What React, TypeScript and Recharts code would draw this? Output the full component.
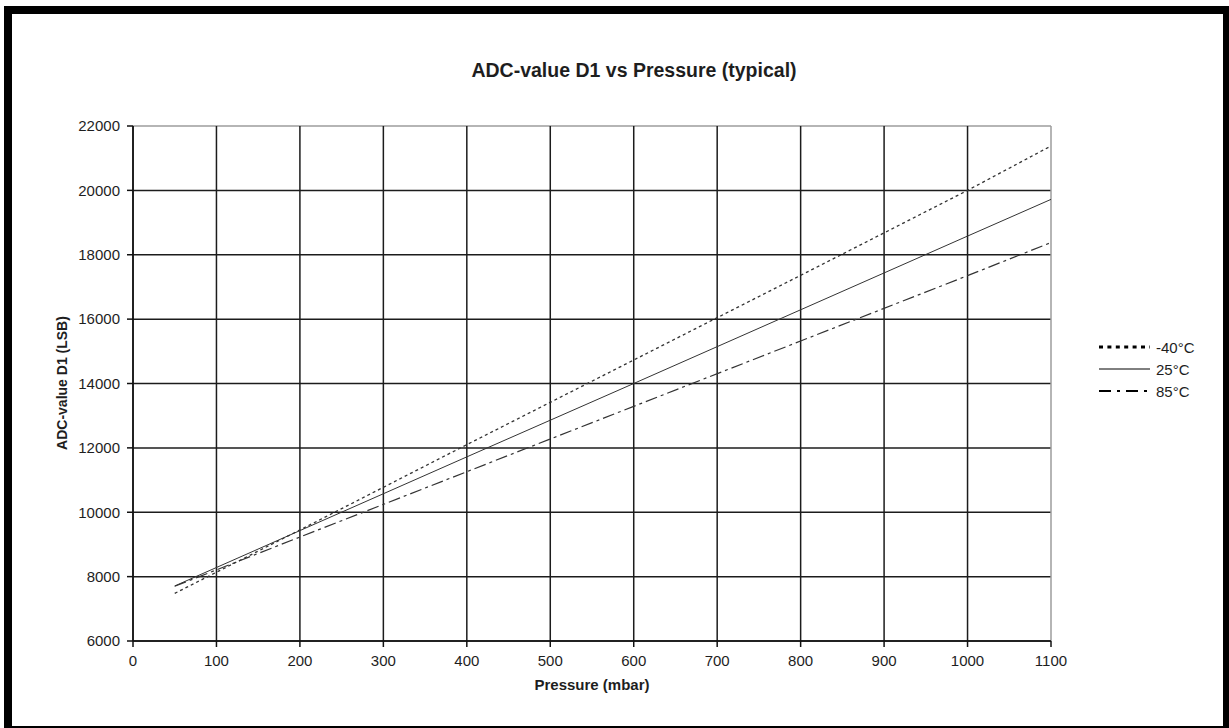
import React from 'react';
import { LineChart, Line, XAxis, YAxis, CartesianGrid, Legend, Label } from 'recharts';

// values (mbar -> LSB)
const pressure = [50, 200, 400, 600, 800, 1000, 1100];
const adcMinus40 = [7480, 9450, 12100, 14730, 17360, 20000, 21380];
const adc25 = [7710, 9430, 11720, 14000, 16290, 18580, 19720];
const adc85 = [7700, 9230, 11260, 13290, 15320, 17350, 18380];

const xTicks = [0, 100, 200, 300, 400, 500, 600, 700, 800, 900, 1000, 1100];
const yTicks = [6000, 8000, 10000, 12000, 14000, 16000, 18000, 20000, 22000];

const seriesNames = ['-40°C', '25°C', '85°C'];

const data = pressure.map((p, i) => ({
  p,
  t40: adcMinus40[i],
  t25: adc25[i],
  t85: adc85[i],
}));

const FONT = '"Liberation Sans", Arial, Helvetica, sans-serif';
const INK = '#1e1e1e';
const LINE = '#333';

// legend swatches are drawn heavier than the plotted lines, like the original
const legendStyle: Record<string, { width: number; dash?: string }> = {
  t40: { width: 3, dash: '4 4.4' },
  t25: { width: 1 },
  t85: { width: 2, dash: '12 6 3 6' },
};

function LegendBox(props: any) {
  const items = props.payload || [];
  return (
    <div style={{ fontFamily: FONT, fontSize: 15, color: INK }}>
      {items.map((it: any) => {
        const st = legendStyle[it.dataKey] || { width: 1 };
        return (
          <div key={it.dataKey} style={{ display: 'flex', alignItems: 'center', height: 22 }}>
            <svg width={52} height={10} style={{ display: 'block' }}>
              <line x1={0} y1={5} x2={51} y2={5} stroke="#000" strokeWidth={st.width} strokeDasharray={st.dash} />
            </svg>
            <span style={{ marginLeft: 5 }}>{it.value}</span>
          </div>
        );
      })}
    </div>
  );
}

const gridLine = (isEdge: boolean) => ({
  stroke: isEdge ? '#9c9c9c' : '#1c1c1c',
  strokeWidth: 1.5,
});

export default function App() {
  return (
    <div
      style={{
        position: 'absolute',
        left: 0,
        top: 0,
        width: 1229,
        height: 728,
        background: '#fff',
        fontFamily: FONT,
        overflow: 'hidden',
      }}
    >
      {/* frame */}
      <div style={{ position: 'absolute', left: 4, top: 6, width: 1225, height: 8, background: '#000' }} />
      <div style={{ position: 'absolute', left: 4, top: 6, width: 8, height: 722, background: '#000' }} />
      <div style={{ position: 'absolute', left: 1223, top: 6, width: 6, height: 722, background: '#000' }} />
      <div style={{ position: 'absolute', left: 4, top: 726, width: 1225, height: 2, background: '#000' }} />

      <div
        style={{
          position: 'absolute',
          left: 0,
          width: 1268,
          top: 59,
          textAlign: 'center',
          fontSize: 19.5,
          fontWeight: 'bold',
          color: INK,
        }}
      >
        ADC-value D1 vs Pressure (typical)
      </div>

      <div style={{ position: 'absolute', left: 0, top: 0 }}>
        <LineChart width={1229} height={728} data={data} margin={{ top: 126, right: 178, bottom: 0, left: 63 }}>
          <CartesianGrid
            horizontal={(p: any) => (
              <line key={p.key} x1={p.x1} y1={p.y1} x2={p.x2} y2={p.y2} {...gridLine(p.y1 < 130)} />
            )}
            vertical={(p: any) => (
              <line key={p.key} x1={p.x1} y1={p.y1} x2={p.x2} y2={p.y2} {...gridLine(p.x1 > 1045)} />
            )}
          />
          <XAxis
            dataKey="p"
            type="number"
            domain={[0, 1100]}
            ticks={xTicks}
            interval={0}
            height={87}
            tickSize={6}
            tickMargin={8}
            axisLine={{ stroke: '#111', strokeWidth: 1.5 }}
            tickLine={{ stroke: '#111', strokeWidth: 1.5 }}
            tick={{ fill: INK, fontSize: 15, fontFamily: FONT }}
          >
            <Label
              content={() => (
                <text x={592} y={690} textAnchor="middle" fontSize={15} fontWeight="bold" fill={INK} fontFamily={FONT}>
                  Pressure (mbar)
                </text>
              )}
            />
          </XAxis>
          <YAxis
            type="number"
            domain={[6000, 22000]}
            ticks={yTicks}
            interval={0}
            width={70}
            tickSize={6}
            tickMargin={7}
            axisLine={{ stroke: '#111', strokeWidth: 1.5 }}
            tickLine={{ stroke: '#111', strokeWidth: 1.5 }}
            tick={{ fill: INK, fontSize: 15, fontFamily: FONT }}
          >
            <Label
              content={() => (
                <text
                  x={67}
                  y={383}
                  transform="rotate(-90 67 383)"
                  textAnchor="middle"
                  fontSize={14}
                  fontWeight="bold"
                  fill={INK}
                  fontFamily={FONT}
                >
                  ADC-value D1 (LSB)
                </text>
              )}
            />
          </YAxis>
          <Legend
            layout="vertical"
            align="center"
            verticalAlign="middle"
            content={LegendBox}
            wrapperStyle={{ left: 1099, top: 336, width: 'auto' }}
          />
          <Line
            dataKey="t40"
            name={seriesNames[0]}
            stroke={LINE}
            strokeWidth={1.3}
            strokeDasharray="3 3"
            dot={false}
            activeDot={false}
            isAnimationActive={false}
          />
          <Line
            dataKey="t25"
            name={seriesNames[1]}
            stroke={LINE}
            strokeWidth={1}
            dot={false}
            activeDot={false}
            isAnimationActive={false}
          />
          <Line
            dataKey="t85"
            name={seriesNames[2]}
            stroke={LINE}
            strokeWidth={1.2}
            strokeDasharray="12 4 3 4"
            dot={false}
            activeDot={false}
            isAnimationActive={false}
          />
        </LineChart>
      </div>
    </div>
  );
}
